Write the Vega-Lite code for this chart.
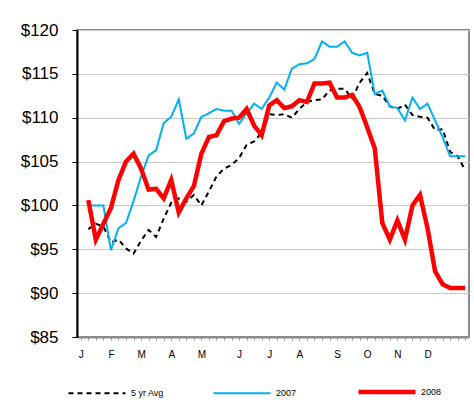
{
  "$schema": "https://vega.github.io/schema/vega-lite/v6.json",
  "autosize": "none",
  "width": 392,
  "height": 307,
  "padding": {"left": 77, "top": 30, "right": 5, "bottom": 63},
  "background": "white",
  "config": {
    "font": "Liberation Sans",
    "view": {"stroke": "#8c8c8c", "strokeWidth": 2},
    "legend": {
      "title": null,
      "orient": "none",
      "legendX": -11,
      "legendY": 331,
      "direction": "horizontal",
      "columns": 3,
      "gridAlign": "all",
      "columnPadding": 40,
      "symbolType": "stroke",
      "symbolSize": 3249,
      "labelFontSize": 9,
      "labelColor": "#000000",
      "labelOffset": 3
    }
  },
  "data": {"values": [
    {"w":1,"s":"5 yr Avg","p":97.3},{"w":2,"s":"5 yr Avg","p":97.9},{"w":3,"s":"5 yr Avg","p":97.6},{"w":4,"s":"5 yr Avg","p":95.8},{"w":5,"s":"5 yr Avg","p":96.1},{"w":6,"s":"5 yr Avg","p":95.1},{"w":7,"s":"5 yr Avg","p":94.5},{"w":8,"s":"5 yr Avg","p":96.0},{"w":9,"s":"5 yr Avg","p":97.2},{"w":10,"s":"5 yr Avg","p":96.4},
    {"w":11,"s":"5 yr Avg","p":98.5},{"w":12,"s":"5 yr Avg","p":100.3},{"w":13,"s":"5 yr Avg","p":100.8},{"w":14,"s":"5 yr Avg","p":100.4},{"w":15,"s":"5 yr Avg","p":101.2},{"w":16,"s":"5 yr Avg","p":100.0},{"w":17,"s":"5 yr Avg","p":101.6},{"w":18,"s":"5 yr Avg","p":103.3},{"w":19,"s":"5 yr Avg","p":104.2},{"w":20,"s":"5 yr Avg","p":104.6},
    {"w":21,"s":"5 yr Avg","p":105.4},{"w":22,"s":"5 yr Avg","p":106.9},{"w":23,"s":"5 yr Avg","p":107.3},{"w":24,"s":"5 yr Avg","p":108.3},{"w":25,"s":"5 yr Avg","p":110.4},{"w":26,"s":"5 yr Avg","p":110.3},{"w":27,"s":"5 yr Avg","p":110.4},{"w":28,"s":"5 yr Avg","p":110.0},{"w":29,"s":"5 yr Avg","p":111.0},{"w":30,"s":"5 yr Avg","p":111.8},
    {"w":31,"s":"5 yr Avg","p":112.0},{"w":32,"s":"5 yr Avg","p":112.1},{"w":33,"s":"5 yr Avg","p":113.1},{"w":34,"s":"5 yr Avg","p":113.3},{"w":35,"s":"5 yr Avg","p":113.3},{"w":36,"s":"5 yr Avg","p":112.2},{"w":37,"s":"5 yr Avg","p":114.0},{"w":38,"s":"5 yr Avg","p":115.1},{"w":39,"s":"5 yr Avg","p":112.7},{"w":40,"s":"5 yr Avg","p":112.5},
    {"w":41,"s":"5 yr Avg","p":111.3},{"w":42,"s":"5 yr Avg","p":111.0},{"w":43,"s":"5 yr Avg","p":111.5},{"w":44,"s":"5 yr Avg","p":110.3},{"w":45,"s":"5 yr Avg","p":110.1},{"w":46,"s":"5 yr Avg","p":110.0},{"w":47,"s":"5 yr Avg","p":108.6},{"w":48,"s":"5 yr Avg","p":108.7},{"w":49,"s":"5 yr Avg","p":106.1},{"w":50,"s":"5 yr Avg","p":105.6},{"w":51,"s":"5 yr Avg","p":104.0},
    {"w":1,"s":"2007","p":100.0},{"w":2,"s":"2007","p":100.0},{"w":3,"s":"2007","p":100.0},{"w":4,"s":"2007","p":94.9},{"w":5,"s":"2007","p":97.4},{"w":6,"s":"2007","p":98.0},{"w":7,"s":"2007","p":100.5},{"w":8,"s":"2007","p":103.3},{"w":9,"s":"2007","p":105.7},{"w":10,"s":"2007","p":106.3},
    {"w":11,"s":"2007","p":109.4},{"w":12,"s":"2007","p":110.1},{"w":13,"s":"2007","p":112.1},{"w":14,"s":"2007","p":107.6},{"w":15,"s":"2007","p":108.2},{"w":16,"s":"2007","p":110.1},{"w":17,"s":"2007","p":110.5},{"w":18,"s":"2007","p":111.0},{"w":19,"s":"2007","p":110.8},{"w":20,"s":"2007","p":110.8},
    {"w":21,"s":"2007","p":109.3},{"w":22,"s":"2007","p":110.5},{"w":23,"s":"2007","p":111.6},{"w":24,"s":"2007","p":111.0},{"w":25,"s":"2007","p":112.3},{"w":26,"s":"2007","p":114.0},{"w":27,"s":"2007","p":113.2},{"w":28,"s":"2007","p":115.6},{"w":29,"s":"2007","p":116.1},{"w":30,"s":"2007","p":116.2},
    {"w":31,"s":"2007","p":116.7},{"w":32,"s":"2007","p":118.7},{"w":33,"s":"2007","p":118.1},{"w":34,"s":"2007","p":118.1},{"w":35,"s":"2007","p":118.7},{"w":36,"s":"2007","p":117.4},{"w":37,"s":"2007","p":117.1},{"w":38,"s":"2007","p":117.4},{"w":39,"s":"2007","p":112.7},{"w":40,"s":"2007","p":113.1},
    {"w":41,"s":"2007","p":111.3},{"w":42,"s":"2007","p":111.1},{"w":43,"s":"2007","p":109.7},{"w":44,"s":"2007","p":112.3},{"w":45,"s":"2007","p":111.0},{"w":46,"s":"2007","p":111.6},{"w":47,"s":"2007","p":109.7},{"w":48,"s":"2007","p":107.8},{"w":49,"s":"2007","p":105.6},{"w":50,"s":"2007","p":105.6},{"w":51,"s":"2007","p":105.6},
    {"w":1,"s":"2008","p":100.6},{"w":2,"s":"2008","p":96.1},{"w":3,"s":"2008","p":97.9},{"w":4,"s":"2008","p":99.7},{"w":5,"s":"2008","p":102.9},{"w":6,"s":"2008","p":105.0},{"w":7,"s":"2008","p":105.9},{"w":8,"s":"2008","p":104.2},{"w":9,"s":"2008","p":101.8},{"w":10,"s":"2008","p":101.9},
    {"w":11,"s":"2008","p":100.8},{"w":12,"s":"2008","p":102.9},{"w":13,"s":"2008","p":99.2},{"w":14,"s":"2008","p":100.8},{"w":15,"s":"2008","p":102.2},{"w":16,"s":"2008","p":105.9},{"w":17,"s":"2008","p":107.8},{"w":18,"s":"2008","p":108.0},{"w":19,"s":"2008","p":109.6},{"w":20,"s":"2008","p":109.9},
    {"w":21,"s":"2008","p":110.0},{"w":22,"s":"2008","p":111.0},{"w":23,"s":"2008","p":109.1},{"w":24,"s":"2008","p":108.0},{"w":25,"s":"2008","p":111.4},{"w":26,"s":"2008","p":112.0},{"w":27,"s":"2008","p":111.1},{"w":28,"s":"2008","p":111.3},{"w":29,"s":"2008","p":112.0},{"w":30,"s":"2008","p":111.8},
    {"w":31,"s":"2008","p":113.9},{"w":32,"s":"2008","p":113.9},{"w":33,"s":"2008","p":114.0},{"w":34,"s":"2008","p":112.3},{"w":35,"s":"2008","p":112.3},{"w":36,"s":"2008","p":112.6},{"w":37,"s":"2008","p":111.2},{"w":38,"s":"2008","p":108.9},{"w":39,"s":"2008","p":106.5},{"w":40,"s":"2008","p":98.0},
    {"w":41,"s":"2008","p":96.1},{"w":42,"s":"2008","p":98.3},{"w":43,"s":"2008","p":96.1},{"w":44,"s":"2008","p":100.0},{"w":45,"s":"2008","p":101.2},{"w":46,"s":"2008","p":97.4},{"w":47,"s":"2008","p":92.5},{"w":48,"s":"2008","p":91.0},{"w":49,"s":"2008","p":90.6},{"w":50,"s":"2008","p":90.6},{"w":51,"s":"2008","p":90.6}
  ]},
  "mark": {"type": "line", "strokeJoin": "miter", "strokeCap": "butt"},
  "encoding": {
    "x": {
      "field": "w", "type": "quantitative",
      "scale": {"domain": [-0.5, 51.5], "nice": false, "zero": false},
      "axis": {
        "title": null,
        "values": [0,1,2,3,4,5,6,7,8,9,10,11,12,13,14,15,16,17,18,19,20,21,22,23,24,25,26,27,28,29,30,31,32,33,34,35,36,37,38,39,40,41,42,43,44,45,46,47,48,49,50,51],
        "labelExpr": "['J','','','','F','','','','M','','','','A','','','','M','','','','','J','','','','J','','','','A','','','','','S','','','','O','','','','N','','','','D','','','','',''][datum.value]",
        "labelOverlap": false,
        "labelFontSize": 10,
        "labelColor": "#000000",
        "labelPadding": 9,
        "tickSize": 3,
        "tickColor": "#8c8c8c",
        "domainColor": "#8c8c8c",
        "domainWidth": 2,
        "grid": false
      }
    },
    "y": {
      "field": "p", "type": "quantitative",
      "scale": {"domain": [85, 120], "nice": false, "zero": false},
      "axis": {
        "title": null,
        "values": [85, 90, 95, 100, 105, 110, 115, 120],
        "labelExpr": "'$' + datum.value",
        "labelFontSize": 17,
        "labelColor": "#000000",
        "labelPadding": 14,
        "tickSize": 5,
        "tickColor": "#000000",
        "domainColor": "#000000",
        "domainWidth": 2,
        "grid": true,
        "gridColor": "#c8c8c8",
        "gridWidth": 1
      }
    },
    "color": {
      "field": "s", "type": "nominal",
      "scale": {"domain": ["5 yr Avg", "2007", "2008"], "range": ["#000000", "#00b0f0", "#ff0000"]}
    },
    "strokeDash": {
      "field": "s", "type": "nominal",
      "scale": {"type": "ordinal", "domain": ["5 yr Avg", "2007", "2008"], "range": [[5, 4], [1, 0], [1, 0]]}
    },
    "strokeWidth": {
      "field": "s", "type": "nominal",
      "scale": {"type": "ordinal", "domain": ["5 yr Avg", "2007", "2008"], "range": [2, 2, 4.5]}
    }
  }
}
